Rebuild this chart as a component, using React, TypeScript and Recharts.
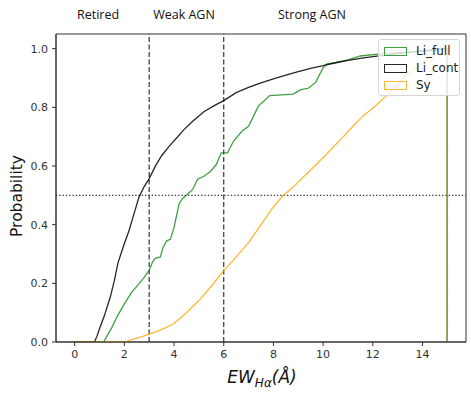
import { LineChart, Line, XAxis, YAxis, ReferenceLine, ReferenceArea } from 'recharts';

// cumulative step curves as [EW, probability]
const liFull: [number, number][] = [
  [0, 0], [1.17, 0], [1.3, 0.02], [1.5, 0.05], [1.7, 0.085], [2.0, 0.13], [2.3, 0.17],
  [2.6, 0.2], [2.8, 0.22], [3.0, 0.245], [3.15, 0.275], [3.25, 0.285], [3.45, 0.29],
  [3.55, 0.32], [3.7, 0.345], [3.85, 0.35], [4.0, 0.39], [4.1, 0.43], [4.2, 0.47],
  [4.35, 0.49], [4.5, 0.5], [4.75, 0.52], [4.95, 0.555], [5.2, 0.565], [5.45, 0.58],
  [5.7, 0.605], [5.9, 0.645], [6.15, 0.645], [6.4, 0.685], [6.75, 0.72], [7.0, 0.735],
  [7.2, 0.77], [7.4, 0.805], [7.6, 0.82], [7.85, 0.84], [8.8, 0.845], [9.1, 0.86],
  [9.4, 0.865], [9.7, 0.885], [9.85, 0.91], [10.0, 0.935], [10.15, 0.948], [10.5, 0.952],
  [11.0, 0.962], [11.5, 0.975], [12.3, 0.982], [13.8, 0.991], [15, 1.0], [15, 0],
];

const liCont: [number, number][] = [
  [0, 0], [0.8, 0], [0.9, 0.02], [1.0, 0.045], [1.2, 0.09], [1.44, 0.155], [1.6, 0.21],
  [1.74, 0.268], [1.9, 0.31], [2.0, 0.335], [2.19, 0.38], [2.4, 0.44], [2.59, 0.494],
  [2.8, 0.53], [3.0, 0.557], [3.27, 0.603], [3.5, 0.635], [3.8, 0.667], [4.13, 0.698],
  [4.4, 0.724], [4.74, 0.752], [5.2, 0.785], [5.6, 0.805], [6.0, 0.823], [6.5, 0.85],
  [7, 0.868], [7.5, 0.883], [8, 0.897], [8.5, 0.91], [9, 0.922], [9.5, 0.933], [10, 0.942],
  [10.5, 0.952], [11, 0.96], [11.5, 0.967], [12, 0.973], [12.5, 0.978], [13, 0.983],
  [13.5, 0.988], [14, 0.992], [14.5, 0.996], [15, 1.0], [15, 0],
];

const sy: [number, number][] = [
  [0, 0], [2.0, 0], [2.3, 0.008], [2.6, 0.015], [3.0, 0.027], [3.5, 0.042], [4.0, 0.063],
  [4.5, 0.1], [5.02, 0.143], [5.5, 0.19], [5.96, 0.239], [6.5, 0.29], [7.04, 0.343],
  [7.5, 0.4], [7.99, 0.46], [8.4, 0.5], [8.8, 0.528], [9.3, 0.57], [9.74, 0.607],
  [10.15, 0.642], [10.7, 0.69], [11.23, 0.738], [11.6, 0.77], [12.04, 0.8], [12.7, 0.851],
  [13.39, 0.914], [14.0, 0.95], [14.47, 0.982], [15, 1.0], [15, 0],
];

const xTicks = [0, 2, 4, 6, 8, 10, 12, 14];
const yTicks = [0, 0.2, 0.4, 0.6, 0.8, 1.0];
const regionLabels = ['Retired', 'Weak AGN', 'Strong AGN'];
const legendNames = ['Li_full', 'Li_cont', 'Sy'];

const toRows = (pts: [number, number][]) => pts.map(([x, y]) => ({ x, y }));

const COLORS = ['#008000', '#000000', '#FFA500'];
const OPAC = [0.75, 0.85, 0.8];
const AX = '#333';
const tickFont = { fontSize: 11, fontFamily: 'DejaVu Sans', fill: AX };

export default function App() {
  const series = [liFull, liCont, sy];
  return (
    <div style={{ position: 'absolute', left: 0, top: 0, width: 471, height: 393, background: '#fff' }}>
      <LineChart width={471} height={393} margin={{ top: 34, right: 5, left: 0, bottom: 0 }}>
        <XAxis
          type="number"
          dataKey="x"
          domain={[-0.75, 15.75]}
          ticks={xTicks}
          allowDataOverflow
          tick={tickFont}
          tickSize={4}
          tickMargin={4}
          stroke={AX}
          height={51}
        />
        <YAxis
          type="number"
          domain={[0, 1.05]}
          ticks={yTicks}
          allowDataOverflow
          tickFormatter={(v) => Number(v).toFixed(1)}
          tick={tickFont}
          tickSize={4}
          tickMargin={4}
          stroke={AX}
          width={56}
        />
        <ReferenceLine y={0.5} stroke={AX} strokeDasharray="1.3 2" strokeWidth={1.2} />
        <ReferenceLine x={3} stroke={AX} strokeDasharray="5 2.5" strokeWidth={1.2} />
        <ReferenceLine x={6} stroke={AX} strokeDasharray="5 2.5" strokeWidth={1.2} />
        {series.map((pts, i) => (
          <Line
            key={legendNames[i]}
            data={toRows(pts)}
            dataKey="y"
            type="linear"
            stroke={COLORS[i]}
            strokeOpacity={OPAC[i]}
            strokeWidth={1.3}
            dot={false}
            isAnimationActive={false}
          />
        ))}
        <ReferenceArea x1={-0.75} x2={15.75} y1={0} y2={1.05} fill="none" stroke={AX} strokeWidth={1} ifOverflow="visible" />
      </LineChart>

      <svg width={471} height={393} style={{ position: 'absolute', left: 0, top: 0, pointerEvents: 'none' }}>
        <g fontFamily="Open Sans" fontSize={12.5} fill="#111" textAnchor="middle">
          <text x={98} y={19}>{regionLabels[0]}</text>
          <text x={184} y={19}>{regionLabels[1]}</text>
          <text x={312} y={19}>{regionLabels[2]}</text>
        </g>
        <text
          x={22}
          y={196}
          transform="rotate(-90 22 196)"
          textAnchor="middle"
          fontFamily="DejaVu Sans"
          fontSize={15.5}
          fill="#111"
        >
          Probability
        </text>
        <text x={262} y={383} textAnchor="middle" fontFamily="DejaVu Sans" fontStyle="italic" fontSize={17} fill="#111">
          EW
          <tspan fontSize={12} dy={4}>Hα</tspan>
          <tspan dy={-4}>(Å)</tspan>
        </text>
      </svg>

      <div
        style={{
          position: 'absolute',
          left: 378,
          top: 39,
          width: 80,
          height: 55,
          background: 'rgba(255,255,255,0.8)',
          border: '1px solid #d6d6d6',
          borderRadius: 3,
          fontFamily: 'DejaVu Sans',
          fontSize: 12,
          color: '#222',
        }}
      >
        {legendNames.map((n, i) => (
          <div key={n} style={{ position: 'absolute', left: 5, top: 4 + i * 17, height: 14, display: 'flex', alignItems: 'center' }}>
            <div
              style={{
                width: 21,
                height: 7,
                border: `1.5px solid ${COLORS[i]}`,
                opacity: OPAC[i],
                marginRight: 9,
              }}
            />
            <span>{n}</span>
          </div>
        ))}
      </div>
    </div>
  );
}
